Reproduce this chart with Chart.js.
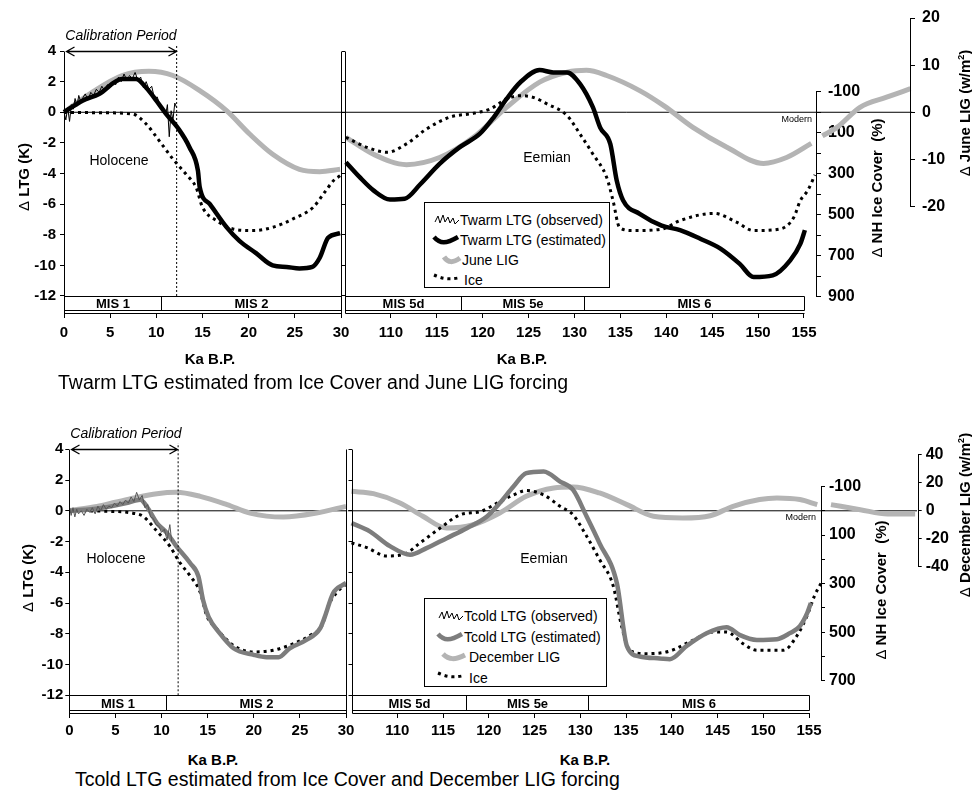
<!DOCTYPE html>
<html>
<head>
<meta charset="utf-8">
<script src="https://cdn.jsdelivr.net/npm/chart.js@4.4.1/dist/chart.umd.min.js"></script>
<style>
  body { margin: 0; background: #fff; }
  #fig { position: relative; width: 972px; height: 792px; overflow: hidden; background: #fff;
         font-family: "Liberation Sans", Arial, Helvetica, sans-serif; color: #000; }
  #fig canvas { position: absolute; }
  .t { position: absolute; white-space: nowrap; transform: translate(-50%, -50%); line-height: 1; }
  .rot { transform: translate(-50%, -50%) rotate(-90deg); font-weight: bold; font-size: 15px; }
  .rot .d { font-weight: normal; }
  .rot sup { font-size: 9px; }
  .kbp { font-weight: bold; font-size: 15px; }
  .cap { position: absolute; white-space: nowrap; font-size: 19.5px; transform: translateY(-50%); line-height: 1.1; }
  .modern { position: absolute; font-size: 9px; transform: translate(-100%, -50%); line-height: 1; }
  .legend { position: absolute; border: 1px solid #000; background: #fff; box-sizing: border-box; }
  .legend svg { position: absolute; }
  .legend span { position: absolute; font-size: 14px; white-space: nowrap; transform: translateY(-50%); line-height: 1; }
</style>
</head>
<body>
<div id="fig">
  <canvas id="tl" width="352" height="350" style="left:0;top:0"></canvas>
  <canvas id="tr" width="637" height="350" style="left:335px;top:0"></canvas>
  <canvas id="bl" width="357" height="330" style="left:0;top:420px"></canvas>
  <canvas id="br" width="631" height="330" style="left:341px;top:420px"></canvas>

  <!-- top panel text -->
  <div class="t" style="left:121px;top:35px;font-style:italic;font-size:14px">Calibration Period</div>
  <div class="t" style="left:119px;top:160px;font-size:14px">Holocene</div>
  <div class="t" style="left:547px;top:157px;font-size:14px">Eemian</div>
  <div class="t kbp" style="left:210px;top:358px">Ka B.P.</div>
  <div class="t kbp" style="left:522px;top:358px">Ka B.P.</div>
  <div class="cap" style="left:58px;top:383px">Twarm LTG estimated from Ice Cover and June LIG forcing</div>
  <div class="t rot" style="left:23px;top:177px"><span class="d">&Delta;</span> LTG (K)</div>
  <div class="t rot" style="left:876px;top:188px"><span class="d">&Delta;</span> NH Ice Cover&nbsp; (%)</div>
  <div class="t rot" style="left:964px;top:113px"><span class="d">&Delta;</span> June LIG (w/m<sup>2</sup>)</div>
  <div class="modern" style="left:812px;top:119px">Modern</div>
  <div class="legend" style="left:424px;top:202px;width:186px;height:86px">
    <svg style="left:9px;top:10px" width="26" height="14"><polyline points="1,9 4,3 6,10 9,2 11,9 14,4 16,10 19,5 21,11 25,7" fill="none" stroke="#000" stroke-width="1"/></svg>
    <span style="left:35px;top:17px">Twarm LTG (observed)</span>
    <svg style="left:7px;top:29px" width="28" height="16"><path d="M2,5 C8,12 14,12 26,5" fill="none" stroke="#000" stroke-width="4.5"/></svg>
    <span style="left:35px;top:37px">Twarm LTG (estimated)</span>
    <svg style="left:17px;top:49px" width="20" height="16"><path d="M2,5 C6,11 11,11 18,6" fill="none" stroke="#b4b4b4" stroke-width="5"/></svg>
    <span style="left:37px;top:57px">June LIG</span>
    <svg style="left:7px;top:69px" width="28" height="14"><path d="M2,3 C9,6 15,8 26,6" fill="none" stroke="#000" stroke-width="3" stroke-dasharray="3 4"/></svg>
    <span style="left:39px;top:77px">Ice</span>
  </div>

  <!-- bottom panel text -->
  <div class="t" style="left:126px;top:433px;font-style:italic;font-size:14px">Calibration Period</div>
  <div class="t" style="left:116px;top:558px;font-size:14px">Holocene</div>
  <div class="t" style="left:544px;top:558px;font-size:14px">Eemian</div>
  <div class="t kbp" style="left:213px;top:759px">Ka B.P.</div>
  <div class="t kbp" style="left:585px;top:759px">Ka B.P.</div>
  <div class="cap" style="left:75px;top:780px">Tcold LTG estimated from Ice Cover and December LIG forcing</div>
  <div class="t rot" style="left:27px;top:578px"><span class="d">&Delta;</span> LTG (K)</div>
  <div class="t rot" style="left:880px;top:590px"><span class="d">&Delta;</span> NH Ice Cover&nbsp; (%)</div>
  <div class="t rot" style="left:964px;top:515px"><span class="d">&Delta;</span> December LIG (w/m<sup>2</sup>)</div>
  <div class="modern" style="left:816px;top:517px">Modern</div>
  <div class="legend" style="left:424px;top:598px;width:183px;height:89px">
    <svg style="left:13px;top:10px" width="26" height="14"><polyline points="1,9 4,3 6,10 9,2 11,9 14,4 16,10 19,5 21,11 25,7" fill="none" stroke="#000" stroke-width="1"/></svg>
    <span style="left:39px;top:17px">Tcold LTG (observed)</span>
    <svg style="left:11px;top:30px" width="28" height="16"><path d="M2,5 C8,12 14,12 26,5" fill="none" stroke="#7d7d7d" stroke-width="4.5"/></svg>
    <span style="left:39px;top:38px">Tcold LTG (estimated)</span>
    <svg style="left:16px;top:50px" width="26" height="16"><path d="M2,5 C8,11 14,11 24,6" fill="none" stroke="#b4b4b4" stroke-width="5"/></svg>
    <span style="left:44px;top:58px">December LIG</span>
    <svg style="left:11px;top:71px" width="28" height="14"><path d="M2,3 C9,6 15,8 26,6" fill="none" stroke="#000" stroke-width="3" stroke-dasharray="3 4"/></svg>
    <span style="left:44px;top:79px">Ice</span>
  </div>
</div>

<script>
// ---------- data (ka B.P. / values) ----------
// top panel: Twarm / June LIG
const warmObsKa = [0, 0.2, 0.4, 0.6, 0.8, 1.0, 1.2, 1.4, 1.6, 1.8, 2.0, 2.3, 2.6, 2.9, 3.2, 3.5, 3.8, 4.1, 4.4, 4.7, 5.0, 5.3, 5.6, 5.9, 6.2, 6.5, 6.8, 7.1, 7.4, 7.7, 8.0, 8.3, 8.6, 8.9, 9.2, 9.5, 9.8, 10.1, 10.4, 10.7, 11.0, 11.2, 11.4, 11.6, 11.8, 12.0, 12.2];
const warmObs = [0, -0.5, 0.3, -0.6, 0.5, 0.2, 0.9, 0.4, 1.1, 0.7, 0.9, 1.2, 0.8, 1.3, 1.1, 1.5, 1.3, 1.7, 1.4, 1.8, 1.7, 2.0, 1.8, 2.3, 2.0, 2.5, 2.1, 2.4, 2.2, 2.6, 2.1, 2.3, 1.6, 2.0, 1.5, 1.7, 0.9, 1.0, 0.4, 0.3, -0.2, 0.5, -1.6, 0.1, -0.5, 0.6, 0.3];

const warmKaL = [0, 2, 3.8, 6.3, 7.8, 8.9, 10.0, 11.05, 12.3, 13.6, 14.5, 14.7, 15.8, 17.6, 19.0, 20.8, 22.6, 24.1, 25.5, 26.9, 27.7, 28.6, 29.9];
const warmL = [0, 0.76, 1.2, 2.17, 2.17, 1.6, 0.76, -0.1, -1.0, -2.3, -3.8, -4.9, -6.0, -7.5, -8.4, -9.2, -10.0, -10.1, -10.2, -10.1, -9.5, -8.2, -7.9];
const warmKaR = [105.1, 106.6, 108.1, 109.9, 111.5, 113.2, 115.3, 117.5, 119.7, 121.2, 122.6, 124.1, 126.2, 127.7, 129.2, 130.6, 132.0, 132.8, 133.9, 134.6, 135.3, 137.1, 139.5, 141.5, 143.7, 145.9, 148.0, 149.5, 151.6, 153.5, 154.6, 155.1];
const warmR = [-3.26, -4.24, -5.1, -5.7, -5.65, -4.7, -3.37, -2.28, -1.4, -0.33, 0.87, 1.96, 2.76, 2.6, 2.6, 1.85, 0.33, -1.0, -2.07, -4.46, -5.76, -6.63, -7.4, -7.7, -8.26, -8.9, -9.9, -10.76, -10.65, -9.67, -8.6, -7.7];

const juneKaL = [0, 3, 6.3, 9.2, 11.8, 14.7, 17.6, 20.1, 22.6, 25.5, 27.7, 29.9];
const juneL = [0, 4.2, 7.8, 8.7, 7.8, 4.6, 0.35, -4.6, -8.9, -12.1, -12.6, -12.1];
const juneKaR = [105.1, 108.1, 111.7, 115.3, 119.0, 122.6, 126.2, 129.2, 131.3, 133.5, 137.1, 139.8, 142.9, 146.6, 150.6, 153.1, 155.8, 156.3, 157.0, 158.6, 161.1, 164.0, 166.6];
const juneR = [-5.3, -8.9, -11.1, -9.6, -5.3, 1.06, 6.4, 8.5, 8.9, 7.8, 4.6, 1.3, -3.2, -7.4, -10.85, -9.6, -6.6, null, -5.0, -3.2, 1.06, 3.2, 5.0];

const iceKaTL = [0, 4, 7.4, 8.9, 10.3, 11.8, 13.2, 14.3, 15.0, 16.5, 18.3, 20.5, 22.6, 24.8, 27.0, 28.1, 29.2, 29.9];
const iceTL = [0, 2, 8, 57, 138, 228, 301, 366, 463, 528, 569, 577, 561, 520, 463, 398, 333, 309];
const iceKaTR = [105.1, 107.4, 109.6, 111.7, 113.9, 116.4, 119.0, 120.8, 122.6, 124.1, 125.5, 127.0, 129.2, 130.6, 132.0, 133.5, 134.2, 134.9, 136.3, 139.5, 141.5, 145.2, 147.7, 149.5, 152.4, 153.9, 154.6, 155.4, 156.2];
const iceTR = [122, 171, 195, 154, 81, 24, 5, -16, -65, -81, -73, -41, 16, 106, 203, 317, 431, 561, 577, 570, 528, 493, 537, 577, 569, 512, 431, 382, 305];

// bottom panel: Tcold / December LIG
const coldObsKa = [0, 0.2, 0.4, 0.6, 0.8, 1.0, 1.3, 1.6, 1.9, 2.2, 2.5, 2.8, 3.1, 3.4, 3.7, 4.0, 4.3, 4.6, 4.9, 5.2, 5.5, 5.8, 6.1, 6.4, 6.7, 7.0, 7.3, 7.6, 7.9, 8.2, 8.5, 8.8, 9.1, 9.4, 9.7, 10.0, 10.3, 10.6, 10.9, 11.1];
const coldObs = [0.3, -0.3, 0.2, -0.4, 0.1, -0.2, 0.0, -0.3, 0.1, -0.1, 0.2, -0.2, 0.3, 0.0, 0.4, 0.1, 0.3, 0.2, 0.5, 0.3, 0.6, 0.4, 0.7, 0.5, 0.9, 0.6, 1.2, 0.7, 1.0, 0.2, 0.4, -0.4, -0.5, -0.9, -1.0, -1.4, -1.2, -1.9, -0.9, -2.0];

const coldKaL = [0, 3.3, 6.2, 7.7, 8.4, 9.5, 10.6, 11.6, 13.1, 14.0, 14.5, 15.1, 16.3, 17.8, 20.0, 21.4, 22.7, 23.9, 25.7, 27.2, 27.7, 28.6, 29.7, 30];
const coldL = [0, 0.17, 0.5, 0.72, 0.28, -0.8, -1.45, -2.3, -3.4, -4.27, -5.8, -6.9, -7.96, -8.94, -9.37, -9.52, -9.52, -8.94, -8.4, -7.64, -6.9, -5.36, -4.8, -4.7];
const coldKaR = [105.0, 107.0, 109.2, 111.4, 113.2, 115.4, 117.6, 119.8, 121.2, 122.7, 124.1, 126.0, 127.8, 129.2, 130.7, 132.1, 134.0, 135.1, 136.5, 138.7, 139.8, 141.6, 143.8, 146.0, 147.4, 149.3, 151.5, 152.9, 154.0, 154.8, 155.2];
const coldR = [-0.8, -1.34, -2.3, -2.86, -2.43, -1.78, -1.13, -0.37, 0.5, 1.58, 2.45, 2.56, 1.9, 1.37, -0.37, -2.1, -4.7, -8.8, -9.48, -9.6, -9.65, -8.8, -7.96, -7.57, -8.07, -8.4, -8.35, -7.96, -7.5, -6.66, -6.0];

const decKaL = [0, 3, 5, 7.0, 9.5, 11.6, 14.2, 17.1, 19.6, 23.2, 26.8, 30.0];
const decL = [0, 3, 6, 9.0, 12.1, 13.1, 10.2, 4.3, -1.7, -4.5, -1.7, 3.1];
const decKaR = [105.0, 107.4, 110.3, 112.8, 115.4, 118.3, 121.2, 124.1, 127.1, 129.2, 132.1, 135.1, 138.0, 141.2, 144.2, 146.7, 149.6, 151.5, 154.0, 155.9, 156.3, 157.4, 160.6, 163.6, 166.6];
const decR = [13.8, 12.1, 5.5, -4.0, -12.4, -10, -1.7, 10.2, 16.2, 16.9, 12.6, 4.3, -4.0, -5.2, -3.6, 3.1, 7.9, 9.0, 7.9, 4.3, null, 4.3, 0.7, -2.4, -2.4];

const iceKaBL = [0, 4, 6.9, 8.0, 9.5, 10.9, 12.0, 13.1, 14.2, 14.9, 16.0, 17.8, 20.0, 22.1, 24.3, 26.1, 27.4, 28.1, 29.0, 30];
const iceBL = [0, 2, 10, 23, 84, 146, 214, 268, 336, 431, 486, 554, 581, 574, 547, 513, 472, 390, 336, 302];
const iceKaBR = [105.0, 106.7, 108.8, 110.7, 112.5, 114.7, 116.9, 119.1, 120.9, 122.7, 124.1, 126.0, 127.8, 129.2, 130.7, 132.1, 133.6, 134.5, 135.4, 137.2, 139.7, 142.3, 144.5, 146.0, 147.8, 149.3, 152.2, 153.7, 154.8, 155.6, 156.3];
const iceBR = [132, 152, 186, 180, 132, 71, 16, 3, -31, -65, -83, -65, -18, 16, 105, 200, 309, 472, 574, 588, 578, 533, 499, 499, 547, 574, 574, 513, 431, 350, 299];

// reference lines, periods, ticks
const zeroKaL = [0, 30];
const zeroKaR = [104.6, 166.8];
const zeros = [0, 0];
const calTop = [0, 12.2];
const calBot = [0, 11.8];
const calLtg = [-12, 4.4];
const misEdgesTL = [0, 10.5, 30];
const misEdgesBL = [0, 10.45, 30];
const misLabelsL = ['MIS 1', 'MIS 2'];
const misEdgesTR = [105, 117.6, 131, 155];
const misEdgesBR = [105, 117.5, 130.9, 155];
const misLabelsR = ['MIS 5d', 'MIS 5e', 'MIS 6'];

const ltgTicks = [-12, -10, -8, -6, -4, -2, 0, 2, 4];
const kaTicksL = [0, 5, 10, 15, 20, 25, 30];
const kaTicksR = [110, 115, 120, 125, 130, 135, 140, 145, 150, 155];
const iceTicksTop = [-100, 0, 100, 200, 300, 400, 500, 600, 700, 800, 900];
const iceTicksBot = [-100, 0, 100, 200, 300, 400, 500, 600, 700];
const ligTicksTop = [-20, -10, 0, 10, 20];
const ligTicksBot = [-40, -20, 0, 20, 40];

// ---------- helpers ----------
Chart.defaults.font.family = '"Liberation Sans", Arial, Helvetica, sans-serif';
Chart.defaults.color = '#000';
const tickFont = { size: 15, weight: 'bold' };
const sideFont = { size: 16, weight: 'bold' };

const pts = (xs, ys) => xs.map((x, i) => ({ x, y: ys[i] }));
const line = (xs, ys, axis, style) => Object.assign({
  data: pts(xs, ys), yAxisID: axis, pointRadius: 0, fill: false,
  cubicInterpolationMode: 'monotone', borderJoinStyle: 'round'
}, style);

const sObs = { borderColor: '#000', borderWidth: 1, cubicInterpolationMode: 'default', tension: 0, order: 1 };
const sEst = { borderColor: '#000', borderWidth: 4.5, order: 2 };
const sCold = { borderColor: '#7d7d7d', borderWidth: 4.5, order: 2 };
const sIce = { borderColor: '#000', borderWidth: 3, borderDash: [3, 4], borderCapStyle: 'butt', order: 3 };
const sLig = { borderColor: '#b4b4b4', borderWidth: 5, clip: false, order: 4 };
const sZero = { borderColor: '#000', borderWidth: 1, cubicInterpolationMode: 'default', tension: 0, clip: false, order: 5 };
const sCal = { borderColor: '#000', borderWidth: 1, borderDash: [2, 2], cubicInterpolationMode: 'default', tension: 0, order: 0 };

const fixSize = size => s => {
  if (!s.options.display) return;
  if (s.isHorizontal()) s.height = size; else s.width = size;
  s.paddingLeft = s.paddingRight = s.paddingTop = s.paddingBottom = 0;
};
const useTicks = vals => s => { s.ticks = vals.map(v => ({ value: v })); };
const marks = len => ({ display: true, drawOnChartArea: false, drawTicks: true, tickLength: len,
  color: '#000', tickColor: '#000', lineWidth: 1 });

// axis lines, MIS band, calibration arrow
const frame = {
  id: 'frame',
  afterDatasetsDraw(chart, args, o) {
    const { ctx, chartArea: a, scales } = chart;
    const X = v => Math.round(scales.x.getPixelForValue(v)) + 0.5;
    const Y = v => Math.round(scales.y.getPixelForValue(v)) + 0.5;
    const yb = Math.round(a.bottom) + 0.5, yt = Y(o.top), yband = Y(o.band), ybox = yb - 3;
    ctx.save();
    ctx.strokeStyle = '#000';
    ctx.lineWidth = 1;
    ctx.beginPath();
    [yb, yband, ybox].forEach(y => { ctx.moveTo(X(o.from), y); ctx.lineTo(X(o.to), y); });
    o.sides.forEach(v => { ctx.moveTo(X(v), yt); ctx.lineTo(X(v), yb); });
    o.edges.forEach(v => { ctx.moveTo(X(v), yband); ctx.lineTo(X(v), ybox); });
    o.axes.forEach(id => {
      const s = scales[id], t = s.ticks, x = Math.round(s.left) + 0.5;
      ctx.moveTo(x, s.getPixelForValue(t[0].value));
      ctx.lineTo(x, s.getPixelForValue(t[t.length - 1].value));
    });
    ctx.stroke();
    if (o.arrow) {
      const a0 = X(o.arrow[0]) + 2, a1 = X(o.arrow[1]) - 1, ya = Y(o.top);
      ctx.lineWidth = 1.3;
      ctx.beginPath();
      ctx.moveTo(a0, ya); ctx.lineTo(a1, ya);
      ctx.moveTo(a0 + 8, ya - 4.5); ctx.lineTo(a0, ya); ctx.lineTo(a0 + 8, ya + 4.5);
      ctx.moveTo(a1 - 8, ya - 4.5); ctx.lineTo(a1, ya); ctx.lineTo(a1 - 8, ya + 4.5);
      ctx.stroke();
    }
    ctx.fillStyle = '#000';
    ctx.font = 'bold 13px "Liberation Sans", Arial, sans-serif';
    ctx.textAlign = 'center';
    ctx.textBaseline = 'middle';
    o.labels.forEach((t, i) =>
      ctx.fillText(t, (X(o.edges[i]) + X(o.edges[i + 1])) / 2, (yband + ybox) / 2 + 1));
    ctx.restore();
  }
};

function plot(id, p) {
  return new Chart(document.getElementById(id), {
    type: 'line',
    data: { datasets: p.datasets },
    options: {
      responsive: false, animation: false, events: [],
      layout: { padding: p.pad },
      plugins: { legend: { display: false }, tooltip: { enabled: false }, frame: p.frame },
      scales: {
        x: {
          type: 'linear', position: 'bottom', bounds: 'data',
          afterDataLimits: s => { s.min = p.ka[0]; s.max = p.ka[1]; },
          afterBuildTicks: useTicks(p.kaTicks), afterFit: fixSize(p.xH),
          grid: marks(p.xTl), border: { display: false },
          ticks: { autoSkip: false, maxRotation: 0, minRotation: 0, padding: p.xPad, color: '#000', font: tickFont }
        },
        y: {
          position: 'left', min: p.ltg[0], max: p.ltg[1],
          afterBuildTicks: useTicks(ltgTicks), afterFit: fixSize(p.yW),
          grid: marks(p.yTl), border: { display: false },
          ticks: { padding: p.yPad, color: '#000', font: tickFont, callback: p.yLabels ? (v => v) : (() => '') }
        },
        ice: {
          position: 'right', display: p.right, reverse: true, min: p.ice[0], max: p.ice[1], weight: 1,
          afterBuildTicks: useTicks(p.iceTicks), afterFit: fixSize(p.iceW),
          grid: marks(p.rTl), border: { display: false },
          ticks: { padding: p.rPad, color: '#000', font: sideFont, callback: v => (v / 100) % 2 ? v : '' }
        },
        lig: {
          position: 'right', display: p.right, min: p.lig[0], max: p.lig[1], weight: 2,
          afterBuildTicks: useTicks(p.ligTicks), afterFit: fixSize(p.ligW),
          grid: marks(p.rTl), border: { display: false },
          ticks: { padding: p.rPad, color: '#000', font: sideFont }
        }
      }
    },
    plugins: [frame]
  });
}

// ---------- top panel ----------
const topAxes = { ltg: [-13.111, 6.157], ice: [-460, 979], lig: [-42.57, 20],
  iceTicks: iceTicksTop, ligTicks: ligTicksTop, xH: 37, xTl: 5, xPad: 6, yTl: 4, yPad: 4, rTl: 5, rPad: 7 };

plot('tl', Object.assign({}, topAxes, {
  pad: { top: 18, right: 11, left: 0, bottom: 0 }, yW: 64, yLabels: true, right: false,
  ka: [0, 30], kaTicks: kaTicksL,
  frame: { from: 0, to: 30, top: 4, band: -12, sides: [0, 30], edges: misEdgesTL, labels: misLabelsL, axes: [], arrow: calTop },
  datasets: [
    line(zeroKaL, zeros, 'y', sZero),
    line(juneKaL, juneL, 'lig', sLig),
    line(iceKaTL, iceTL, 'ice', sIce),
    line(warmKaL, warmL, 'y', sEst),
    line(warmObsKa, warmObs, 'y', sObs),
    line([calTop[1], calTop[1]], calLtg, 'y', sCal)
  ]
}));

plot('tr', Object.assign({}, topAxes, {
  pad: { top: 18, right: 0, left: 0, bottom: 0 }, yW: 10, yTl: 3, yLabels: false, right: true, iceW: 94, ligW: 62,
  ka: [105, 156.31], kaTicks: kaTicksR,
  frame: { from: 105, to: 155, top: 4, band: -12, sides: [105], edges: misEdgesTR, labels: misLabelsR, axes: ['ice', 'lig'] },
  datasets: [
    line(zeroKaR, zeros, 'y', sZero),
    line(juneKaR, juneR, 'lig', sLig),
    line(iceKaTR, iceTR, 'ice', sIce),
    line(warmKaR, warmR, 'y', sEst)
  ]
}));

// ---------- bottom panel ----------
const botAxes = { ltg: [-13.152, 4.605], ice: [-291, 832], lig: [-144, 50.3],
  iceTicks: iceTicksBot, ligTicks: ligTicksBot, xH: 37, xTl: 5, xPad: 4, yTl: 4, yPad: 2, rTl: 4, rPad: 4 };

plot('bl', Object.assign({}, botAxes, {
  pad: { top: 20, right: 11, left: 0, bottom: 0 }, yW: 69.3, yLabels: true, right: false,
  ka: [0, 30], kaTicks: kaTicksL,
  frame: { from: 0, to: 30, top: 4, band: -12, sides: [0, 30], edges: misEdgesBL, labels: misLabelsL, axes: [], arrow: calBot },
  datasets: [
    line(zeroKaL, zeros, 'y', sZero),
    line(decKaL, decL, 'lig', sLig),
    line(iceKaBL, iceBL, 'ice', sIce),
    line(coldKaL, coldL, 'y', sCold),
    line(coldObsKa, coldObs, 'y', Object.assign({}, sObs, { borderColor: '#555' })),
    line([calBot[1], calBot[1]], calLtg, 'y', sCal)
  ]
}));

plot('br', Object.assign({}, botAxes, {
  pad: { top: 20, right: 0, left: 0, bottom: 0 }, yW: 10.5, yTl: 3, yLabels: false, right: true, iceW: 96.7, ligW: 54.3,
  ka: [105, 156.31], kaTicks: kaTicksR,
  frame: { from: 105, to: 155, top: 4, band: -12, sides: [105], edges: misEdgesBR, labels: misLabelsR, axes: ['ice', 'lig'] },
  datasets: [
    line(zeroKaR, zeros, 'y', sZero),
    line(decKaR, decR, 'lig', sLig),
    line(iceKaBR, iceBR, 'ice', sIce),
    line(coldKaR, coldR, 'y', sCold)
  ]
}));
</script>
</body>
</html>
